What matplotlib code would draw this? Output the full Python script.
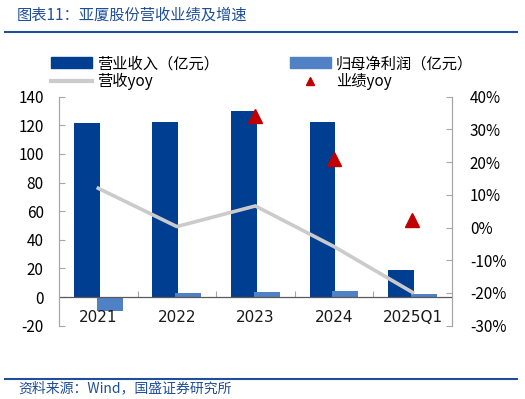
import matplotlib
matplotlib.use("Agg")
import matplotlib.pyplot as plt
from matplotlib.patches import Patch
from matplotlib.lines import Line2D
import numpy as np

plt.rcParams['font.family'] = ['Noto Sans CJK SC', 'DejaVu Sans']
plt.rcParams['axes.unicode_minus'] = False

# data
years = ["2021", "2022", "2023", "2024", "2025Q1"]
revenue = [121.5, 122.3, 130.0, 122.3, 18.7]      # 营业收入（亿元）
net_profit = [-10.0, 2.6, 3.5, 4.2, 1.9]          # 归母净利润（亿元）
rev_yoy = [12.0, 0.3, 6.6, -5.8, -19.8]           # 营收yoy (%)
perf_yoy_x = ["2023", "2024", "2025Q1"]
perf_yoy = [34.0, 20.9, 2.4]                      # 业绩yoy (%)

c_rev = "#003E92"
c_np = "#4F81C4"
c_line = "#CBCBCB"
c_tri = "#C00000"
c_title = "#1F4E9A"
c_spine = "#A6A6A6"

fig = plt.figure(figsize=(5.25, 3.99), dpi=100)
ax = fig.add_axes([0.1124, 0.1837, 0.748, 0.574])
ax2 = ax.twinx()

x = np.arange(len(years))
w = 0.33
ax.bar(x - 0.145, revenue, w, color=c_rev, zorder=2)
ax.bar(x + 0.145, net_profit, w, color=c_np, zorder=2)
ax.axhline(0, color="#595959", lw=0.9, zorder=3)

ax2.plot(x, rev_yoy, color=c_line, lw=2.6, zorder=4)
px = [years.index(v) for v in perf_yoy_x]
ax2.plot(px, perf_yoy, ls="none", marker="^", ms=10, color=c_tri, zorder=5)

ax.set_xlim(-0.5, len(years) - 0.5)
ax.set_ylim(-20, 140)
ax.set_yticks(range(-20, 141, 20))
ax2.set_ylim(-30, 40)
ax2.set_yticks(range(-30, 41, 10))
ax2.set_yticklabels([f"{v}%" for v in range(-30, 41, 10)])

# category separators as inward ticks on the zero line
ax.spines["bottom"].set_position(("data", 0))
ax.set_xticks(np.arange(0.5, len(years) - 0.5, 1))
ax.set_xticklabels([])
ax.tick_params(axis="x", direction="in", length=4, color=c_spine)

ax.tick_params(axis="y", direction="in", length=4, color=c_spine, labelsize=11, pad=11)
ax2.tick_params(axis="y", direction="in", length=4, color=c_spine, labelsize=11, pad=13)
for a in (ax, ax2):
    a.spines["top"].set_visible(False)
    a.spines["bottom"].set_visible(False)
    a.spines["left"].set_color(c_spine)
    a.spines["right"].set_color(c_spine)

# x labels under the zero line
for i, yr in enumerate(years):
    ax.text(i, -14.5, yr, ha="center", va="center", fontsize=11,
            family=["DejaVu Sans"], color="#1A1A1A")

handles = [Patch(color=c_rev), Line2D([], [], color=c_line, lw=3),
           Patch(color=c_np), Line2D([], [], ls="none", marker="^", color=c_tri, ms=6)]
labels = ["营业收入（亿元）", "营收yoy", "归母净利润（亿元）", "业绩yoy"]
fig.legend(handles, labels, loc="upper left", bbox_to_anchor=(0.097, 0.862),
           ncol=2, frameon=False, fontsize=11, handlelength=2.7, handletextpad=0.3,
           columnspacing=4.65, labelspacing=0.05, borderpad=0, borderaxespad=0)

fig.text(0.032, 0.962, "图表11：亚厦股份营收业绩及增速", fontsize=11, color=c_title,
         style="italic", va="center")
fig.add_artist(Line2D([0.01, 0.985], [0.919, 0.919], color=c_title, lw=1.5))
fig.add_artist(Line2D([0.01, 0.985], [0.051, 0.051], color=c_title, lw=1.5))
fig.text(0.034, 0.027, "资料来源：Wind，国盛证券研究所", fontsize=10, color=c_title,
         style="italic", va="center")

fig.savefig("out.png", dpi=100)
